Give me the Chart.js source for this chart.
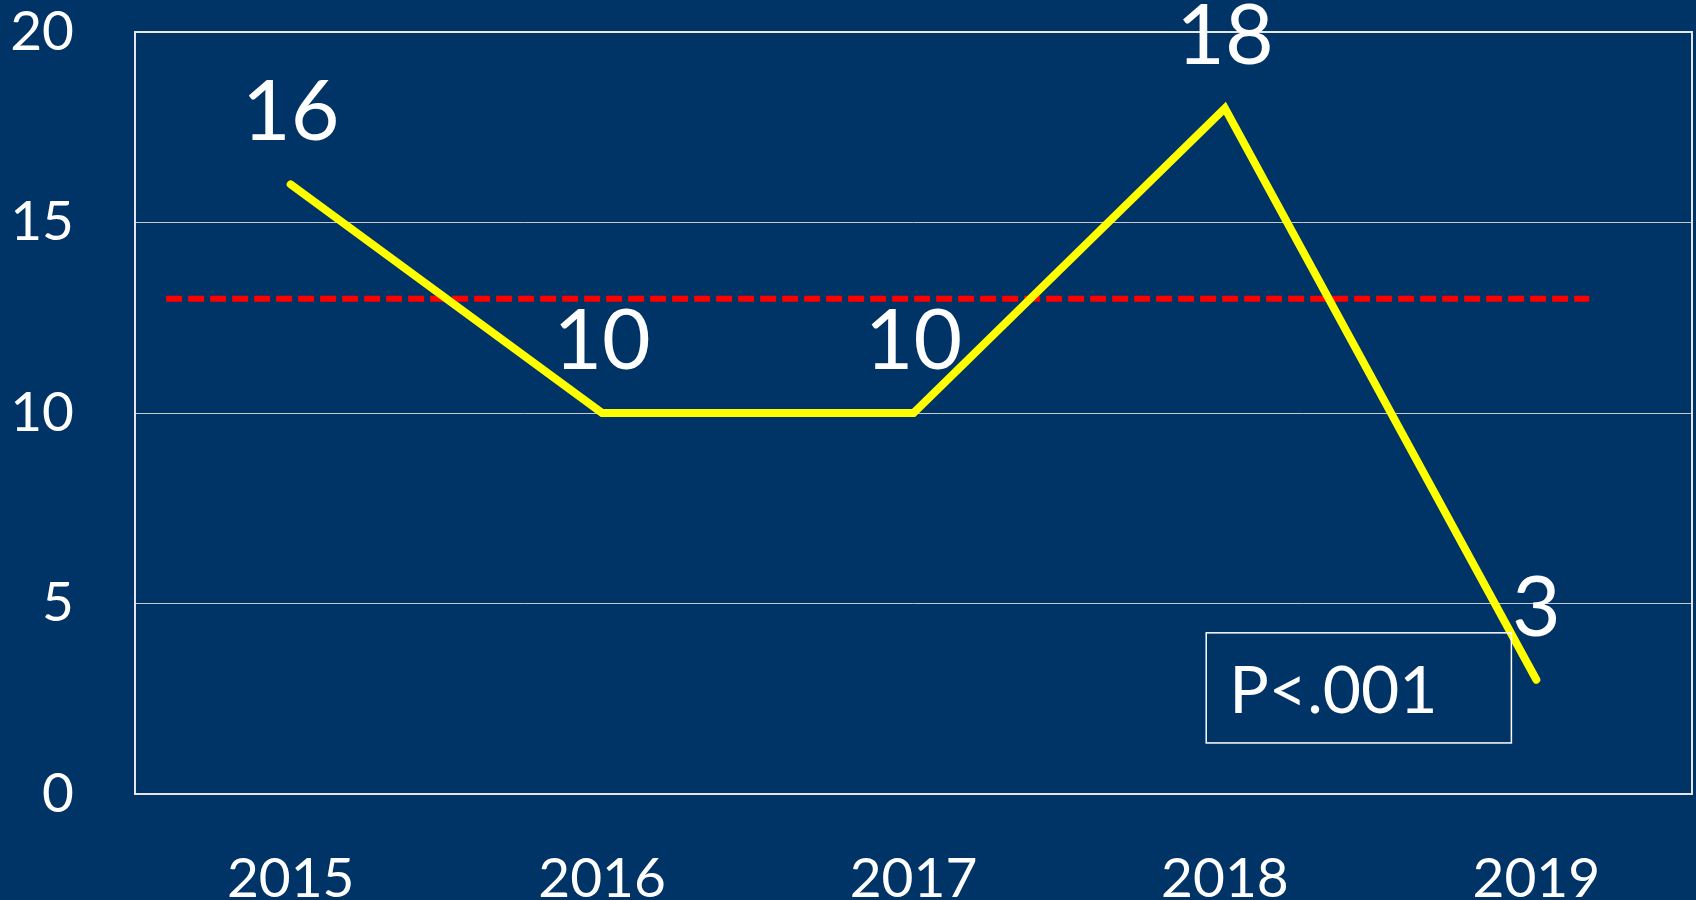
<!DOCTYPE html>
<html>
<head>
<meta charset="utf-8">
<title>Cases per year</title>
<script src="https://cdn.jsdelivr.net/npm/chart.js@4"></script>
<style>
  html, body { margin: 0; padding: 0; background: #003366; }
  #wrap { width: 1696px; height: 900px; }
</style>
</head>
<body>
<div id="wrap"><canvas id="yearChart" width="1696" height="900"></canvas></div>
<script>
// Data
const years = ['2015', '2016', '2017', '2018', '2019'];
const counts = [16, 10, 10, 18, 3];
const yTicks = [0, 5, 10, 15, 20];
const averageLevel = 13;            // red dashed reference line
const averageSpan = [-0.4, 4.17];   // where the dashed line starts/ends (category index units)
const pValueText = 'P<.001';

const FONT = 'Lato, "Open Sans", sans-serif';

// Frame around the plot, value labels and the P-value box
const decorPlugin = {
    id: 'decor',
    afterDatasetsDraw(chart) {
        const ctx = chart.ctx;
        const area = chart.chartArea;
        const x = chart.scales.x;
        const y = chart.scales.y;

        ctx.save();
        ctx.strokeStyle = '#E6E6E6';
        ctx.lineWidth = 2;
        ctx.strokeRect(area.left, area.top, area.right - area.left, area.bottom - area.top);

        // value labels above each point
        ctx.fillStyle = '#FFFFFF';
        ctx.font = '84px ' + FONT;
        ctx.textAlign = 'center';
        ctx.textBaseline = 'alphabetic';
        chart.getDatasetMeta(0).data.forEach((pt, i) => {
            ctx.fillText(String(counts[i]), pt.x, pt.y - 44);
        });

        // P-value box, placed between 2018 and 2019
        const bx0 = x.getPixelForValue(2.94);
        const bx1 = x.getPixelForValue(3.92);
        const by0 = y.getPixelForValue(4.23);
        const by1 = y.getPixelForValue(1.34);
        ctx.strokeStyle = '#FFFFFF';
        ctx.lineWidth = 1.5;
        ctx.strokeRect(bx0, by0, bx1 - bx0, by1 - by0);
        ctx.font = '66px ' + FONT;
        ctx.textAlign = 'left';
        ctx.fillText(pValueText, bx0 + 23, by0 + 80);
        ctx.restore();
    }
};

const ctxYear = document.getElementById('yearChart').getContext('2d');
const yearChart = new Chart(ctxYear, {
    type: 'line',
    data: {
        labels: years,
        datasets: [{
            label: 'Cases',
            data: counts,
            borderColor: '#FFFF00',
            borderWidth: 8,
            borderCapStyle: 'round',
            borderJoinStyle: 'miter',
            pointRadius: 0,
            tension: 0,
            fill: false
        }, {
            label: 'Average',
            xAxisID: 'x2',
            data: averageSpan.map(v => ({ x: v, y: averageLevel })),
            borderColor: '#FF0000',
            borderWidth: 6,
            borderDash: [16, 6],
            borderCapStyle: 'butt',
            pointRadius: 0,
            fill: false
        }]
    },
    options: {
        responsive: false,
        animation: false,
        layout: { padding: { top: 32, right: 4, left: 0, bottom: 0 } },
        plugins: {
            legend: { display: false },
            tooltip: { enabled: false }
        },
        scales: {
            x: {
                type: 'category',
                offset: true,
                grid: { display: false },
                border: { display: false },
                ticks: {
                    color: '#FFFFFF',
                    font: { family: FONT, size: 55 },
                    padding: 44,
                    maxRotation: 0
                },
                afterFit(scale) { scale.height = 106; }
            },
            x2: {
                type: 'linear',
                display: false,
                min: -0.5,
                max: years.length - 0.5
            },
            y: {
                min: yTicks[0],
                max: yTicks[yTicks.length - 1],
                afterBuildTicks(scale) { scale.ticks = yTicks.map(v => ({ value: v })); },
                grid: { color: '#C8C8C8', lineWidth: 1, drawTicks: false },
                border: { display: false },
                ticks: {
                    color: '#FFFFFF',
                    font: { family: FONT, size: 55 },
                    padding: 61
                },
                afterFit(scale) {
                    scale.width = 135;
                    // the big label gap should not push the plot down
                    scale.paddingTop = 0;
                    scale.paddingBottom = 0;
                }
            }
        }
    },
    plugins: [decorPlugin]
});
</script>
</body>
</html>
